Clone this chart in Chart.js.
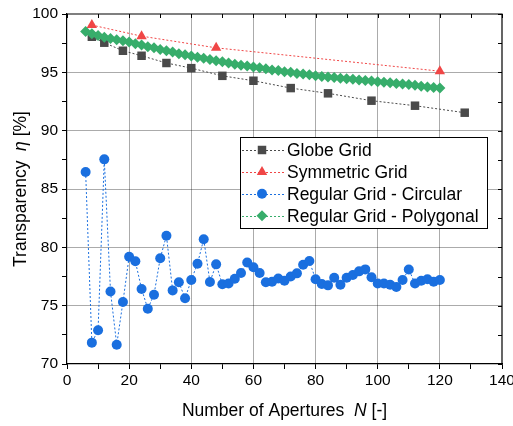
<!DOCTYPE html>
<html>
<head>
<meta charset="UTF-8">
<title>Transparency vs Number of Apertures</title>
<script src="https://cdn.jsdelivr.net/npm/chart.js"></script>
<style>
  html, body { margin: 0; padding: 0; background: #fff; }
</style>
</head>
<body>
<canvas id="transparency" width="513" height="426"></canvas>
<script>
// values
const globeN = [8, 12, 18, 24, 32, 40, 50, 60, 72, 84, 98, 112, 128];
const globeEta = [98.05, 97.54, 96.85, 96.42, 95.8, 95.36, 94.7, 94.28, 93.65, 93.2, 92.57, 92.14, 91.54];

const symmetricN = [8, 24, 48, 120];
const symmetricEta = [99.05, 98.1, 97.1, 95.1];

const regularN = [6, 8, 10, 12, 14, 16, 18, 20, 22, 24, 26, 28, 30, 32, 34, 36, 38, 40, 42, 44,
                  46, 48, 50, 52, 54, 56, 58, 60, 62, 64, 66, 68, 70, 72, 74, 76, 78, 80, 82, 84,
                  86, 88, 90, 92, 94, 96, 98, 100, 102, 104, 106, 108, 110, 112, 114, 116, 118, 120];
const circularEta = [86.45, 71.83, 72.9, 87.54, 76.22, 71.65, 75.31, 79.2, 78.8, 76.43,
                     74.74, 75.94, 79.06, 81.0, 76.31, 77.0, 75.63, 77.2, 78.6, 80.7,
                     77.03, 78.54, 76.83, 76.9, 77.3, 77.8, 78.7, 78.3, 77.8, 77.0,
                     77.05, 77.33, 77.14, 77.5, 77.77, 78.5, 78.83, 77.26, 76.86, 76.74,
                     77.4, 76.8, 77.4, 77.63, 77.94, 78.11, 77.43, 76.9, 76.9, 76.8,
                     76.6, 77.2, 78.1, 76.9, 77.14, 77.26, 77.06, 77.2];
const polygonalEta = [98.5, 98.3, 98.15, 98.0, 97.9, 97.8, 97.7, 97.6, 97.45, 97.35,
                      97.2, 97.1, 96.95, 96.85, 96.75, 96.6, 96.5, 96.4, 96.3, 96.2,
                      96.1, 96.0, 95.9, 95.8, 95.7, 95.6, 95.55, 95.45, 95.4, 95.3,
                      95.2, 95.15, 95.05, 95.0, 94.9, 94.85, 94.8, 94.7, 94.65, 94.6,
                      94.55, 94.5, 94.45, 94.4, 94.35, 94.3, 94.25, 94.2, 94.15, 94.1,
                      94.05, 94.0, 93.95, 93.9, 93.8, 93.75, 93.7, 93.65];

const seriesNames = ['Globe Grid', 'Symmetric Grid', 'Regular Grid - Circular', 'Regular Grid - Polygonal'];

const FONT = "'Liberation Sans', Arial, sans-serif";

function pairs(xs, ys) {
    return xs.map((x, i) => ({ x: x, y: ys[i] }));
}

function marker(ctx, style, x, y, r, color) {
    ctx.save();
    ctx.fillStyle = color;
    ctx.beginPath();
    if (style === 'rect') {
        const s = r * Math.SQRT1_2;
        ctx.rect(x - s, y - s, 2 * s, 2 * s);
    } else if (style === 'triangle') {
        ctx.moveTo(x, y - r);
        ctx.lineTo(x + r * 0.866, y + r * 0.5);
        ctx.lineTo(x - r * 0.866, y + r * 0.5);
        ctx.closePath();
    } else if (style === 'rectRot') {
        ctx.moveTo(x, y - r);
        ctx.lineTo(x + r, y);
        ctx.lineTo(x, y + r);
        ctx.lineTo(x - r, y);
        ctx.closePath();
    } else {
        ctx.arc(x, y, r, 0, Math.PI * 2);
    }
    ctx.fill();
    ctx.restore();
}

// box with top/right mirror axes, inward ticks
const framePlugin = {
    id: 'frame',
    afterDraw(chart) {
        const ctx = chart.ctx;
        const a = chart.chartArea;
        const xs = chart.scales.x, ys = chart.scales.y;
        ctx.save();
        ctx.strokeStyle = '#000';
        ctx.lineWidth = 1.2;
        ctx.beginPath();
        ctx.moveTo(a.left, a.top);
        ctx.lineTo(a.right, a.top);
        ctx.lineTo(a.right, a.bottom);
        ctx.stroke();
        ctx.lineWidth = 1;
        ctx.beginPath();
        xs.ticks.forEach(t => {
            const px = Math.round(xs.getPixelForValue(t.value)) + 0.5;
            ctx.moveTo(px, a.top);
            ctx.lineTo(px, a.top + 4);
        });
        ys.ticks.forEach(t => {
            const py = Math.round(ys.getPixelForValue(t.value)) + 0.5;
            ctx.moveTo(a.right, py);
            ctx.lineTo(a.right - 4, py);
        });
        ctx.stroke();
        ctx.restore();
    }
};

// axis titles with italic symbols
const titlePlugin = {
    id: 'axisTitles',
    afterDraw(chart) {
        const ctx = chart.ctx;
        const a = chart.chartArea;
        const size = 17.5;
        function mixed(parts, cx, cy) {
            let w = 0;
            parts.forEach(p => {
                ctx.font = (p[1] ? 'italic ' : '') + size + 'px ' + FONT;
                w += ctx.measureText(p[0]).width;
            });
            let x = cx - w / 2;
            parts.forEach(p => {
                ctx.font = (p[1] ? 'italic ' : '') + size + 'px ' + FONT;
                ctx.fillText(p[0], x, cy);
                x += ctx.measureText(p[0]).width;
            });
        }
        ctx.save();
        ctx.fillStyle = '#000';
        ctx.textBaseline = 'alphabetic';
        ctx.textAlign = 'left';
        mixed([['Number of Apertures  ', false], ['N', true], [' [-]', false]], (a.left + a.right) / 2, 416);
        ctx.translate(26, (a.top + a.bottom) / 2);
        ctx.rotate(-Math.PI / 2);
        mixed([['Transparency  ', false], ['\u03B7', true], [' [%]', false]], 0, 0);
        ctx.restore();
    }
};

// legend box inside the plot
const legendPlugin = {
    id: 'boxLegend',
    afterDraw(chart) {
        const ctx = chart.ctx;
        const left = 240, top = 137, w = 247, h = 91;
        ctx.save();
        ctx.fillStyle = '#fff';
        ctx.fillRect(left, top, w, h);
        ctx.strokeStyle = '#000';
        ctx.lineWidth = 1;
        ctx.strokeRect(left + 0.5, top + 0.5, w, h);
        chart.data.datasets.forEach((ds, i) => {
            const y = top + 13 + i * 21.9;
            ctx.strokeStyle = ds.borderColor;
            ctx.lineWidth = 1;
            ctx.setLineDash([2, 2]);
            ctx.beginPath();
            ctx.moveTo(left + 2, Math.round(y) + 0.5);
            ctx.lineTo(left + 44, Math.round(y) + 0.5);
            ctx.stroke();
            ctx.setLineDash([]);
            marker(ctx, ds.pointStyle, left + 22, y, ds.pointRadius, ds.pointBackgroundColor);
            ctx.fillStyle = '#000';
            ctx.font = '17.5px ' + FONT;
            ctx.textBaseline = 'middle';
            ctx.fillText(ds.label, left + 47, y + 1);
        });
        ctx.restore();
    }
};

const gridColor = 'rgba(0,0,0,0.33)';

new Chart(document.getElementById('transparency'), {
    type: 'line',
    data: {
        datasets: [
            {
                label: seriesNames[0],
                data: pairs(globeN, globeEta),
                borderColor: '#4a4a4a',
                borderWidth: 1,
                borderDash: [2, 2],
                pointStyle: 'rect',
                pointRadius: 6,
                pointBackgroundColor: '#4a4a4a',
                pointBorderWidth: 0,
                order: 3
            },
            {
                label: seriesNames[1],
                data: pairs(symmetricN, symmetricEta),
                borderColor: '#f04646',
                borderWidth: 1,
                borderDash: [2, 2],
                pointStyle: 'triangle',
                pointRadius: 6,
                pointBackgroundColor: '#f04646',
                pointBorderWidth: 0,
                order: 0
            },
            {
                label: seriesNames[2],
                data: pairs(regularN, circularEta),
                borderColor: '#1a6fdf',
                borderWidth: 1,
                borderDash: [2, 2],
                pointStyle: 'circle',
                pointRadius: 5,
                pointBackgroundColor: '#1a6fdf',
                pointBorderWidth: 0,
                order: 2
            },
            {
                label: seriesNames[3],
                data: pairs(regularN, polygonalEta),
                borderColor: '#37ad6b',
                borderWidth: 1,
                borderDash: [2, 2],
                pointStyle: 'rectRot',
                pointRadius: 5.5,
                pointBackgroundColor: '#37ad6b',
                pointBorderWidth: 0,
                order: 1
            }
        ]
    },
    options: {
        responsive: false,
        animation: false,
        devicePixelRatio: 1,
        layout: { padding: { top: 14, right: 11, left: 0, bottom: 0 } },
        plugins: {
            legend: { display: false },
            tooltip: { enabled: false }
        },
        scales: {
            x: {
                type: 'linear',
                min: 0,
                max: 140,
                ticks: {
                    stepSize: 10,
                    autoSkip: false,
                    maxRotation: 0,
                    color: '#000',
                    padding: 2,
                    font: { family: FONT, size: 15.5 },
                    callback: v => (v % 20 === 0 ? v : '')
                },
                grid: {
                    color: c => (c.tick && c.tick.value % 20 === 0 && c.tick.value > 0 && c.tick.value < 140 ? gridColor : 'rgba(0,0,0,0)'),
                    tickColor: '#000',
                    tickLength: 5
                },
                border: { color: '#000', width: 1.2 },
                afterFit: s => { s.height = 62; s.paddingLeft = 0; s.paddingRight = 0; }
            },
            y: {
                min: 70,
                max: 100,
                ticks: {
                    stepSize: 2.5,
                    autoSkip: false,
                    color: '#000',
                    padding: 4,
                    font: { family: FONT, size: 15.5 },
                    callback: v => (v % 5 === 0 ? v : '')
                },
                grid: {
                    color: c => (c.tick && c.tick.value % 5 === 0 && c.tick.value > 70 && c.tick.value < 100 ? gridColor : 'rgba(0,0,0,0)'),
                    tickColor: '#000',
                    tickLength: 5
                },
                border: { color: '#000', width: 1.2 },
                afterFit: s => { s.width = 67; s.paddingTop = 0; s.paddingBottom = 0; }
            }
        }
    },
    plugins: [framePlugin, legendPlugin, titlePlugin]
});
</script>
</body>
</html>
